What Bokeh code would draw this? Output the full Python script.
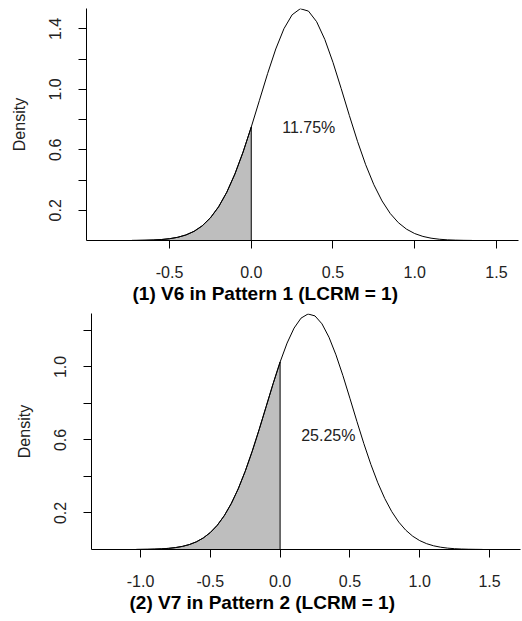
from bokeh.plotting import figure
from bokeh.models import Range1d, FixedTicker, Title, Spacer
from bokeh.layouts import column, row
from bokeh.core.properties import value
from bokeh.embed import file_html
from bokeh.resources import INLINE

FONT = "Liberation Sans"

# ---------------- panel 1 data ----------------
x1 = [-0.73, -0.70, -0.65, -0.60, -0.55, -0.50, -0.45, -0.40, -0.35, -0.30, -0.25,
      -0.20, -0.15, -0.10, -0.05, 0.00, 0.05, 0.10, 0.15, 0.20, 0.25, 0.30,
      0.35, 0.40, 0.45, 0.50, 0.55, 0.60, 0.65, 0.70, 0.75, 0.80, 0.85,
      0.90, 0.95, 1.00, 1.05, 1.10, 1.15, 1.20, 1.25, 1.30, 1.35]
d1 = [0.0005, 0.0008, 0.0017, 0.0033, 0.0064, 0.0118, 0.0212, 0.0365, 0.0606, 0.0970, 0.1497,
      0.2226, 0.3188, 0.4401, 0.5854, 0.7506, 0.9273, 1.1043, 1.2672, 1.4013, 1.4934, 1.5336,
      1.5178, 1.4477, 1.3305, 1.1786, 1.0061, 0.8275, 0.6561, 0.5013, 0.3690, 0.2619, 0.1790,
      0.1179, 0.0749, 0.0458, 0.0270, 0.0154, 0.0084, 0.0044, 0.0023, 0.0011, 0.0005]
pct1 = "11.75%"
title1 = "(1) V6 in Pattern 1 (LCRM = 1)"
xticks1 = [-0.5, 0.0, 0.5, 1.0, 1.5]
yticks1 = [0.2, 0.4, 0.6, 0.8, 1.0, 1.2, 1.4]
ylabels1 = [0.2, 0.6, 1.0, 1.4]

# ---------------- panel 2 data ----------------
x2 = [-1.03, -1.00, -0.95, -0.90, -0.85, -0.80, -0.75, -0.70, -0.65, -0.60, -0.55,
      -0.50, -0.45, -0.40, -0.35, -0.30, -0.25, -0.20, -0.15, -0.10, -0.05, 0.00,
      0.05, 0.10, 0.15, 0.20, 0.25, 0.30, 0.35, 0.40, 0.45, 0.50, 0.55,
      0.60, 0.65, 0.70, 0.75, 0.80, 0.85, 0.90, 0.95, 1.00, 1.05,
      1.10, 1.15, 1.20, 1.25, 1.30, 1.35, 1.40, 1.45]
d2 = [0.0004, 0.0006, 0.0011, 0.0021, 0.0036, 0.0062, 0.0104, 0.0170, 0.0271, 0.0419, 0.0633,
      0.0928, 0.1328, 0.1851, 0.2514, 0.3325, 0.4283, 0.5377, 0.6574, 0.7830, 0.9086, 1.0270,
      1.1309, 1.2131, 1.2676, 1.2905, 1.2797, 1.2363, 1.1633, 1.0665, 0.9525, 0.8286, 0.7022,
      0.5798, 0.4663, 0.3654, 0.2789, 0.2073, 0.1501, 0.1059, 0.0728, 0.0487, 0.0318,
      0.0202, 0.0125, 0.0075, 0.0044, 0.0025, 0.0014, 0.0008, 0.0004]
pct2 = "25.25%"
title2 = "(2) V7 in Pattern 2 (LCRM = 1)"
xticks2 = [-1.0, -0.5, 0.0, 0.5, 1.0, 1.5]
yticks2 = [0.2, 0.4, 0.6, 0.8, 1.0, 1.2]
ylabels2 = [0.2, 0.6, 1.0]


def panel(xs, ds, pct, pct_pos, title, title_left, xticks, yticks, ylabels,
          xr, yr, fw, fh, bl, br, bt, bb):
    p = figure(output_backend="svg", toolbar_location=None,
               frame_width=fw, frame_height=fh,
               min_border_left=bl, min_border_right=br,
               min_border_top=bt, min_border_bottom=bb,
               x_range=Range1d(*xr), y_range=Range1d(*yr),
               background_fill_color="white", border_fill_color="white")
    p.outline_line_color = None
    p.grid.visible = False

    # shaded left tail (x <= 0)
    sx = [x for x in xs if x <= 0]
    sy = [d for x, d in zip(xs, ds) if x <= 0]
    p.patch(sx + [0.0, sx[0]], sy + [0.0, 0.0], fill_color="#BEBEBE",
            line_color="black", line_width=1)
    p.line(xs, ds, line_color="black", line_width=1)

    p.text(x=[pct_pos[0]], y=[pct_pos[1]], text=[pct],
           text_font=value(FONT), text_font_size="16px", text_color="#222222",
           text_align="center", text_baseline="middle")

    for ax in (p.xaxis[0], p.yaxis[0]):
        ax.axis_line_color = "black"
        ax.axis_line_width = 1
        ax.major_tick_line_color = "black"
        ax.major_tick_out = 8
        ax.major_tick_in = 0
        ax.minor_tick_line_color = None
        ax.major_label_text_font = FONT
        ax.major_label_text_font_size = "16px"
        ax.major_label_text_color = "#222222"

    p.xaxis.ticker = FixedTicker(ticks=xticks)
    p.xaxis.major_label_overrides = {t: f"{t:.1f}" for t in xticks}
    p.xaxis.major_label_standoff = 17

    p.yaxis.ticker = FixedTicker(ticks=yticks)
    p.yaxis.major_label_overrides = {t: (f"{t:.1f}" if t in ylabels else "") for t in yticks}
    p.yaxis.major_label_orientation = "vertical"
    p.yaxis.major_label_standoff = 17
    p.yaxis.axis_label = "Density"
    p.yaxis.axis_label_text_font = FONT
    p.yaxis.axis_label_text_font_size = "16px"
    p.yaxis.axis_label_text_font_style = "normal"
    p.yaxis.axis_label_text_color = "#222222"
    p.yaxis.axis_label_standoff = 19

    t = Title(text=title, align="left", offset=title_left,
              text_font=FONT, text_font_size="19px", text_font_style="bold",
              text_color="black")
    if "standoff" in t.properties():
        t.standoff = 1
    p.add_layout(t, "below")
    return p


p1 = panel(x1, d1, pct1, (0.352, 0.749), title1, 46, xticks1, yticks1, ylabels1,
           xr=(-1.008, 1.635), yr=(0.0, 1.535), fw=432, fh=232,
           bl=86, br=4, bt=8, bb=70)
p2 = panel(x2, d2, pct2, (0.345, 0.625), title2, 38, xticks2, yticks2, ylabels2,
           xr=(-1.351, 1.722), yr=(0.0, 1.293), fw=429, fh=236,
           bl=86, br=2, bt=3, bb=70)

layout = column(p1, row(Spacer(width=5, height=10), p2, spacing=0), spacing=0)
open("out.html", "w").write(file_html(layout, INLINE))
